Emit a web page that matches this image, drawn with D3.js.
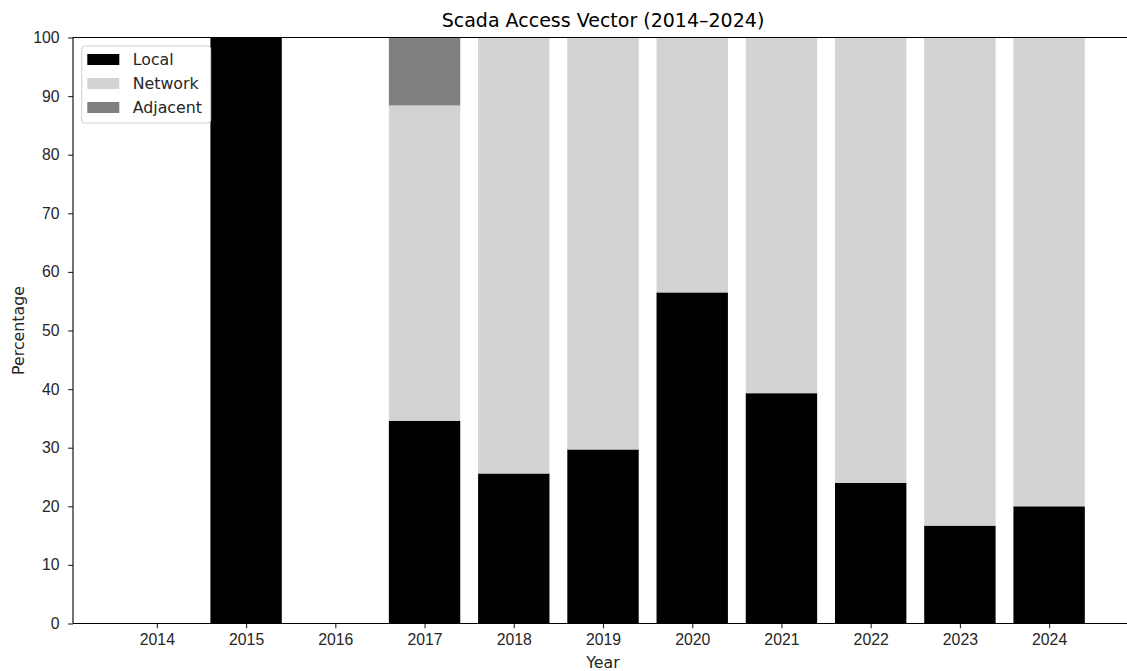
<!DOCTYPE html>
<html>
<head>
<meta charset="utf-8">
<script src="https://cdn.jsdelivr.net/npm/d3@7"></script>
<style>
  html, body { margin: 0; padding: 0; background: #fff; overflow: hidden; }
  svg { display: block; font-family: "DejaVu Sans", sans-serif; }
</style>
</head>
<body>
<svg id="chart" width="1127" height="671"></svg>
<script>
// Share of SCADA vulnerabilities per access vector, by year (percent)
const years = [2014, 2015, 2016, 2017, 2018, 2019, 2020, 2021, 2022, 2023, 2024];
const localPct    = [0, 100, 0, 34.6, 25.6, 29.7, 56.5, 39.3, 24.0, 16.7, 20.0];
const networkPct  = [0, 0, 0, 53.8, 74.4, 70.3, 43.5, 60.7, 76.0, 83.3, 80.0];
const adjacentPct = [0, 0, 0, 11.5, 0, 0, 0, 0, 0, 0, 0];
const yTicks = [0, 10, 20, 30, 40, 50, 60, 70, 80, 90, 100];

const seriesNames = ["Local", "Network", "Adjacent"];
const seriesColors = { Local: "#000000", Network: "#d3d3d3", Adjacent: "#808080" };

const rows = years.map((y, i) => ({
  year: y, idx: i,
  Local: localPct[i], Network: networkPct[i], Adjacent: adjacentPct[i]
}));

const svg = d3.select("#chart");
const plot = { left: 73, top: 37.5, right: 1133, bottom: 623.5 };
const barWidth = 0.8;
const fontSize = "15.8px";

const x = d3.scaleLinear()
  .domain([-0.4 - 0.54, years.length - 1 + 0.4 + 0.54])
  .range([plot.left, plot.right]);
const y = d3.scaleLinear().domain([0, 100]).range([plot.bottom, plot.top]);

const stacked = d3.stack().keys(seriesNames)(rows);

const g = svg.append("g");
stacked.forEach(layer => {
  g.append("g")
    .attr("fill", seriesColors[layer.key])
    .selectAll("rect")
    .data(layer.filter(d => d[1] - d[0] > 0))
    .join("rect")
    .attr("x", d => x(d.data.idx - barWidth / 2))
    .attr("width", d => x(d.data.idx + barWidth / 2) - x(d.data.idx - barWidth / 2))
    .attr("y", d => y(d[1]))
    .attr("height", d => y(d[0]) - y(d[1]));
});

// Axes
const tickLen = 4.86;
const xAxis = d3.axisBottom(x)
  .tickValues(years.map((_, i) => i))
  .tickFormat(i => years[i])
  .tickSizeInner(tickLen).tickSizeOuter(0).tickPadding(5.5);
const yAxis = d3.axisLeft(y)
  .tickValues(yTicks)
  .tickSizeInner(tickLen).tickSizeOuter(0).tickPadding(8.5);

const gx = svg.append("g").attr("transform", `translate(0,${plot.bottom})`).call(xAxis);
const gy = svg.append("g").attr("transform", `translate(${plot.left},0)`).call(yAxis);
[gx, gy].forEach(a => {
  a.selectAll("text").attr("fill", "#262626").style("font-size", fontSize);
  a.selectAll("line").attr("stroke", "#262626").attr("stroke-width", 1.1);
  a.select(".domain").remove();
});

// Spines
const spine = svg.append("g").attr("stroke", "#000").attr("stroke-width", 1.1).attr("fill", "none");
spine.append("line").attr("x1", plot.left).attr("x2", plot.left).attr("y1", plot.top).attr("y2", plot.bottom);
spine.append("line").attr("x1", plot.left).attr("x2", plot.right).attr("y1", plot.bottom).attr("y2", plot.bottom);
spine.append("line").attr("x1", plot.left).attr("x2", plot.right).attr("y1", plot.top).attr("y2", plot.top);
spine.append("line").attr("x1", plot.right).attr("x2", plot.right).attr("y1", plot.top).attr("y2", plot.bottom);

// Title and axis labels
svg.append("text")
  .attr("x", (plot.left + plot.right) / 2).attr("y", 27)
  .attr("text-anchor", "middle").attr("fill", "#000")
  .style("font-size", "19px")
  .text("Scada Access Vector (2014–2024)");
svg.append("text")
  .attr("x", (plot.left + plot.right) / 2).attr("y", 668)
  .attr("text-anchor", "middle").attr("fill", "#262626")
  .style("font-size", fontSize)
  .text("Year");
svg.append("text")
  .attr("transform", `translate(23.5,${(plot.top + plot.bottom) / 2}) rotate(-90)`)
  .attr("text-anchor", "middle").attr("fill", "#262626")
  .style("font-size", fontSize)
  .text("Percentage");

// Legend
const legend = svg.append("g").attr("transform", "translate(81.7,46)");
legend.append("rect")
  .attr("width", 129).attr("height", 77).attr("rx", 3)
  .attr("fill", "#fff").attr("fill-opacity", 0.8)
  .attr("stroke", "#d0d0d0").attr("stroke-width", 1);
seriesNames.forEach((name, i) => {
  const row = legend.append("g").attr("transform", `translate(0,${13.5 + i * 24})`);
  row.append("rect").attr("x", 5.6).attr("y", -5.5).attr("width", 32).attr("height", 11)
    .attr("fill", seriesColors[name]);
  row.append("text").attr("x", 51).attr("y", 0).attr("dy", "0.35em")
    .attr("fill", "#262626").style("font-size", fontSize).text(name);
});
</script>
</body>
</html>
